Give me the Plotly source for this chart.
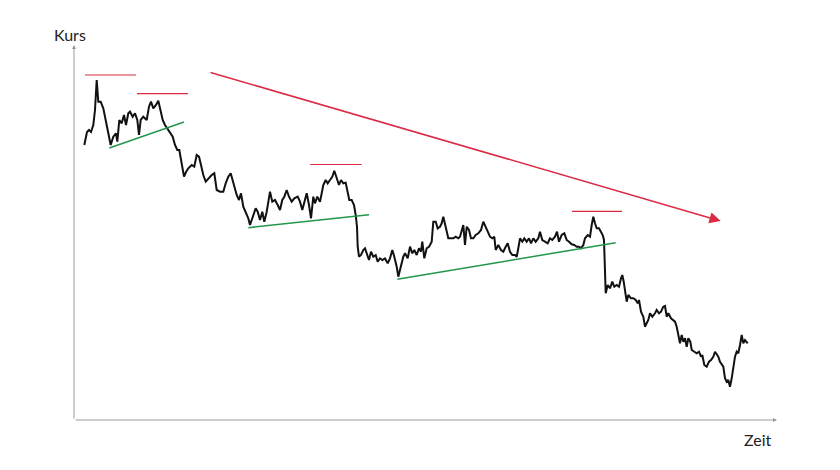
import plotly.graph_objects as go

# Price path (time units, price units)
time = [10.3, 12, 13, 15, 17, 18, 19.3, 21, 22.7, 24.3, 26.7, 29.3, 31, 32.7, 35.3, 36.7, 39.3, 42, 43.3, 45.3,
        47.7, 50, 52, 54.3, 56, 58.7, 61, 63.3, 65, 66.7, 69.3, 72.7, 75, 77, 79.3, 82, 84.3, 86.7, 88.7, 91,
        93.3, 96, 98.7, 101, 103.3, 105.3, 106.7, 108.7, 110, 112, 114.3, 117.7, 120.3, 122.7, 125, 127, 129.3, 131.7,
        134.3, 137.7, 140.3, 142.7, 146, 149.3, 151.7, 154.3, 156.7, 158.7, 161, 162.7, 165, 167, 169.3, 171.7,
        174.3, 176, 177.7, 179.7, 181.7, 183.7, 186, 188.3, 190.3, 192.7, 194.3, 196, 198.3, 201, 203.7, 206,
        208.3, 210.3, 212.7, 215, 217.7, 220.3, 223.7, 226, 228.3, 230.3, 232.7, 235, 237, 239.3, 241, 243.3,
        246, 247.7, 249.3, 251.7, 253.7, 256, 258.3, 260.3, 262.7, 265, 267, 269.3, 271.7, 273.3, 275.3, 277.7,
        280, 281.7, 283, 283.7, 285, 287, 289.3, 291, 292.7, 295, 297, 299.3, 301.7, 303.7, 306, 308.3, 311,
        313.7, 316, 318.3, 320.3, 322.7, 324.3, 327, 329.3, 331, 333.7, 336, 338.3, 340.3, 342.7, 345, 347,
        348.3, 350.3, 352.7, 355, 357.7, 359.3, 361.7, 363.7, 366, 367.7, 369.3, 371, 372.7, 374.3, 377, 379.3,
        381.7, 384.3, 386, 387.7, 389.3, 391, 392.7, 395, 397, 399.3, 401.7, 404.3, 407, 409.3, 411.7, 413.7,
        416, 418.3, 420.3, 421.7, 424.3, 427, 429.3, 431.7, 433.7, 436, 438.3, 441, 442.7, 444.3, 446, 448.3,
        450.3, 452.7, 455, 457, 459.3, 461.7, 464.3, 466, 468.3, 471, 473.7, 476, 478.3, 481, 483, 485, 487.7,
        490.3, 492.7, 495, 497.7, 500.3, 502.7, 505, 507, 509.3, 511, 513.7, 516, 517.7, 519.3, 521, 522.7,
        525, 527, 528.7, 530, 531, 531.7, 533.7, 536, 538.3, 540.3, 542.7, 545, 547, 548.3, 549.7, 551, 552.7,
        554.3, 557, 559.3, 561.7, 563.7, 565, 567, 569.3, 571, 572.7, 574.3, 576, 578.3, 581, 582.7, 585, 587,
        589.3, 591, 592.7, 594.3, 597, 599.3, 601, 602.7, 604.3, 606, 607.7, 609.3, 611, 612.7, 614.3, 616.3,
        617.7, 620.3, 622.7, 625, 627, 628.3, 630.3, 632.7, 635, 637, 639.3, 641, 642.7, 644.3, 646, 647.7,
        649.3, 651, 652.7, 654.3, 656, 657.7, 659.3, 661, 662.7, 664.3, 666, 667.7, 669.3, 671, 673.7]
price = [275, 285, 288, 290, 288, 291, 295, 310, 340, 318.3, 318.3, 311.7, 303.3, 291.7, 278.3, 275, 283.3, 286.7, 278.3, 300,
         296.7, 305, 295, 306.7, 308.3, 303.3, 306.7, 300, 285, 300, 303.3, 300, 313.3, 318.3, 311.7, 315, 319.3, 310, 300, 295,
         291.7, 288.3, 283.3, 275, 270, 270, 261.7, 251.7, 243.3, 248, 251.7, 255, 253.3, 265, 263.3, 255, 245, 238.3,
         241.7, 245, 246.7, 230, 228.3, 228.3, 236.7, 243.3, 246.7, 240, 233.3, 225, 220, 226.7, 213.3, 208.3,
         201.7, 195, 200, 206.7, 211.7, 208.3, 200, 208.3, 198.3, 208.3, 216.7, 228.3, 218.3, 220, 215, 210,
         220, 223.3, 230, 223.3, 218.3, 221.7, 223.3, 218.3, 210, 216.7, 226.7, 215, 201.7, 223.3, 216.7, 223.3,
         218.3, 226.7, 235, 240, 236.7, 240, 243.3, 249.3, 241.7, 235, 240, 236.7, 237.3, 230, 220, 220,
         215, 205, 193.3, 173.3, 163.3, 165, 170, 171.7, 166.7, 160, 168.3, 163.3, 165, 158.3, 161.7, 160, 161.7,
         156.7, 161.7, 170, 163.3, 153.3, 143.3, 153.3, 163.3, 166.7, 161.7, 173.3, 166.7, 170, 165, 171.7, 168.3,
         178.3, 161.7, 171.7, 173.3, 178.3, 198.3, 198.3, 191.7, 193.3, 196.7, 203.3, 195, 190, 181.7, 181.7, 181.7,
         183.3, 181.7, 183.3, 190, 195, 175, 193.3, 190, 181.7, 181.7, 185, 186.7, 190, 198.3, 193.3, 188.3,
         183.3, 181.7, 183.3, 170, 175, 170, 168.3, 173.3, 176.7, 168.3, 165, 165, 163.3, 171.7, 181.7, 178.3,
         181.7, 178.3, 181.7, 176.7, 181.7, 178.3, 181.7, 188.3, 180, 178.3, 176.7, 181.7, 180, 183.3, 188.3, 178.3, 185,
         186.7, 180, 178.3, 175.7, 175, 173.3, 173.3, 171.7, 175, 181.7, 185, 183.3, 195, 203.3, 196.7, 191.7,
         191.7, 188.3, 185, 180, 155, 126.7, 135, 131.7, 138.3, 133.3, 135, 133.3, 141.7, 145, 138.3, 128.3, 118.3,
         125, 121.7, 121.7, 120, 116.7, 120, 108.3, 103.3, 93.3, 96.7, 100, 106.7, 103.3, 106.7, 110, 106.7, 108.3,
         113.3, 114, 103.3, 106.7, 101.7, 100, 98.3, 93.3, 85, 76.7, 85, 78.3, 81.7, 73.3, 81.7, 78.3,
         70, 68.3, 66.7, 68.3, 63.3, 65, 55, 53.3, 58.3, 60, 63.3, 68.3, 65, 63.3, 58.3, 55,
         53.3, 41.7, 38.3, 40, 33.3, 41.7, 53.3, 63.3, 68.3, 66.7, 75, 85, 76.7, 80, 76.7]

# Resistance levels (start time, end time, level)
res_t0 = [11, 63, 236, 498]
res_t1 = [62, 114, 287.7, 548]
res_p = [345, 326.3, 255.5, 208.7]

# Support trend lines
sup_t0 = [35.3, 174.3, 323.3]
sup_p0 = [272, 192.3, 140.7]
sup_t1 = [110, 295, 541.7]
sup_p1 = [298, 205.3, 177.3]

# Downtrend arrow
trend_t = [135, 646.7]
trend_p = [348, 199]

axis_x_max = 703
axis_y_max = 375

fig = go.Figure()

fig.add_trace(go.Scatter(x=time, y=price, mode="lines",
                         line=dict(color="#111111", width=2), hoverinfo="skip"))

for a, b, p in zip(res_t0, res_t1, res_p):
    fig.add_trace(go.Scatter(x=[a, b], y=[p, p], mode="lines",
                             line=dict(color="#dc2a44", width=1.2), hoverinfo="skip"))

for a, pa, b, pb in zip(sup_t0, sup_p0, sup_t1, sup_p1):
    fig.add_trace(go.Scatter(x=[a, b], y=[pa, pb], mode="lines",
                             line=dict(color="#23964a", width=1.5), hoverinfo="skip"))

annotations = [
    # trend arrow
    dict(x=trend_t[1], y=trend_p[1], ax=trend_t[0], ay=trend_p[0], xref="x", yref="y",
         axref="x", ayref="y", showarrow=True, arrowhead=2, arrowsize=1.5, arrowwidth=1.5,
         arrowcolor="#dc2a44", standoff=0, text=""),
    # y axis
    dict(x=0, y=axis_y_max, ax=0, ay=0, xref="x", yref="y", axref="x", ayref="y",
         showarrow=True, arrowhead=2, arrowsize=0.8, arrowwidth=1, arrowcolor="#9a9a9a",
         standoff=0, text=""),
    # x axis
    dict(x=axis_x_max, y=0, ax=0, ay=0, xref="x", yref="y", axref="x", ayref="y",
         showarrow=True, arrowhead=2, arrowsize=0.8, arrowwidth=1, arrowcolor="#9a9a9a",
         standoff=0, text=""),
    dict(x=-0.0057, y=1.029, xref="paper", yref="paper", text="Kurs", showarrow=False,
         xanchor="center", yanchor="middle",
         font=dict(family="Lato", size=16, color="#222222")),
    dict(x=0.9716, y=-0.0507, xref="paper", yref="paper", text="Zeit", showarrow=False,
         xanchor="center", yanchor="middle",
         font=dict(family="Lato", size=16, color="#222222")),
]

fig.update_layout(
    width=840, height=470,
    margin=dict(l=66, r=70, t=37, b=58),
    paper_bgcolor="white", plot_bgcolor="white",
    showlegend=False,
    xaxis=dict(range=[0, 704], visible=False, fixedrange=True),
    yaxis=dict(range=[0, 375], visible=False, fixedrange=True),
    annotations=annotations,
)

fig.write_html("out.html")
